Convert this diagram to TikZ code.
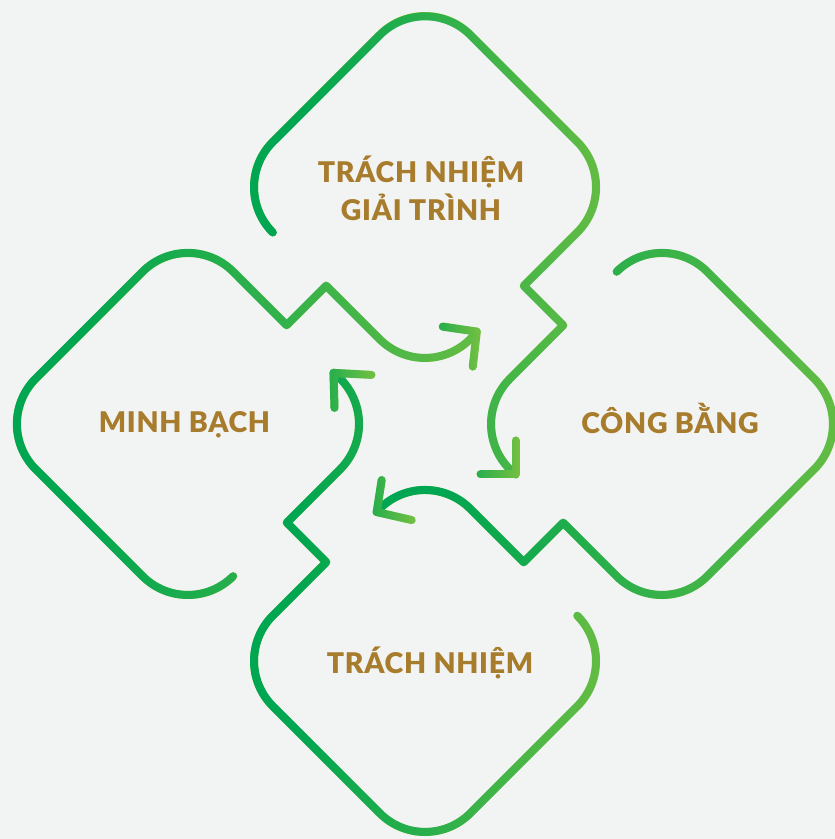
\documentclass[tikz,border=0pt]{standalone}
\usepackage{fontspec}
\newfontfamily\lblfont{Lato Black}[LetterSpace=2.5]
\usetikzlibrary{fadings}
\definecolor{bg}{RGB}{242,244,243}
\definecolor{gdark}{RGB}{0,166,81}
\definecolor{glight}{RGB}{141,198,63}
\definecolor{gold}{RGB}{168,124,45}
\pgfdeclarehorizontalshading{ringshade}{140bp}{color(0bp)=(white); color(52bp)=(white); color(112bp)=(black); color(140bp)=(black)}
\pgfdeclarefading{ringfade}{\pgfuseshading{ringshade}}
\pgfdeclarehorizontalshading{tipshade}{140bp}{color(0bp)=(white); color(20bp)=(white); color(110bp)=(black); color(140bp)=(black)}
\pgfdeclarefading{tipfade}{\pgfuseshading{tipshade}}
\newcommand\ringpath[1]{%
  \draw[ring, glight] #1;
  \draw[ring, gdark, path fading=ringfade, fit fading=true] #1;}
\newcommand\tippath[1]{%
  \draw[ring, glight] #1;
  \draw[ring, gdark, path fading=tipfade, fit fading=true] #1;}
\begin{document}
\begin{tikzpicture}[x=1pt, y=-1pt,
  ring/.style={line width=8pt, line cap=round, line join=round},
  lbl/.style={font=\lblfont\fontsize{28.5}{32}\selectfont, text=gold, inner sep=0pt, anchor=base}]
\fill[bg] (0,0) rectangle (835,839);
\useasboundingbox (0,0) rectangle (835,839);

% top ring (ends with arrow at the left corner of the right ring)
\ringpath{(272.75,232.25) arc[start angle=135, end angle=225, radius=64] -- ++(107,-107)
  arc[start angle=225, end angle=315, radius=64] -- ++(107,107)
  arc[start angle=-45, end angle=45, radius=64] -- ++(-53.5,53.5) -- ++(39.5,39.5) -- ++(-53.5,53.5)
  arc[start angle=225, end angle=128, radius=64] coordinate (tipT)}
% right ring
\ringpath{(616.75,271.75) arc[start angle=225, end angle=315, radius=64] -- ++(107,107)
  arc[start angle=315, end angle=405, radius=64] -- ++(-107,107)
  arc[start angle=45, end angle=135, radius=64] -- ++(-53.5,-53.5) -- ++(-39.5,39.5) -- ++(-53.5,-53.5)
  arc[start angle=315, end angle=221, radius=64] coordinate (tipR)}
% bottom ring
\ringpath{(577.25,615.75) arc[start angle=315, end angle=405, radius=64] -- ++(-107,107)
  arc[start angle=45, end angle=135, radius=64] -- ++(-107,-107)
  arc[start angle=135, end angle=225, radius=64] -- ++(53.5,-53.5) -- ++(-39.5,-39.5) -- ++(53.5,-53.5)
  arc[start angle=45, end angle=-53, radius=64] coordinate (tipB)}
% left ring
\ringpath{(233.25,576.25) arc[start angle=45, end angle=135, radius=64] -- ++(-107,-107)
  arc[start angle=135, end angle=225, radius=64] -- ++(107,-107)
  arc[start angle=225, end angle=315, radius=64] -- ++(53.5,53.5) -- ++(39.5,-39.5) -- ++(53.5,53.5)
  arc[start angle=135, end angle=36, radius=64] coordinate (tipL)}

% arrow heads
\tippath{(tipT) ++(-35,0) -- (tipT) -- ++(0,-34)}
\tippath{(tipR) ++(5,-32) -- (tipR) -- ++(35,8)}
\tippath{(tipB) ++(1,35) -- (tipB) -- ++(38,2)}
\tippath{(tipL) ++(-34,-5) -- (tipL) -- ++(-4,35)}

% labels
\node[lbl] (tTop1) at (421,182.5) {TRÁCH NHIỆM};
\node[lbl] (tTop2) at (421,220) {GIẢI TRÌNH};
\node[lbl] (tLeft) at (184.5,432) {MINH BẠCH};
\node[lbl] (tRight) at (670,433) {CÔNG BẰNG};
\node[lbl] (tBot) at (430,673) {TRÁCH NHIỆM};
\end{tikzpicture}
\end{document}
